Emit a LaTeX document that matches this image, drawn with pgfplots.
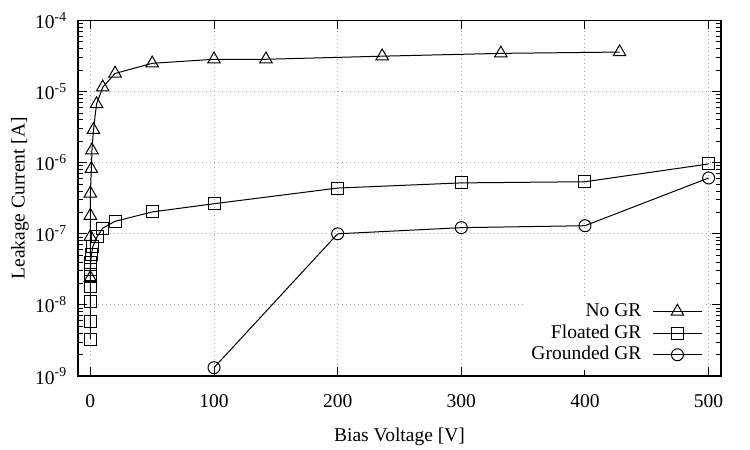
\documentclass[border=0pt]{standalone}
\usepackage{fontspec}
\setmainfont{Liberation Serif}
\usepackage{pgfplots}
\pgfplotsset{compat=1.18}
\begin{document}
\fontsize{9.75}{11.7}\selectfont
\begin{tikzpicture}
\useasboundingbox (-39pt,-37pt) rectangle (336pt,188pt);
\begin{axis}[
  at={(0,0)}, anchor=south west,
  scale only axis, width=321.5pt, height=177.75pt,
  xmin=-10, xmax=510,
  ymode=log, ymin=1e-9, ymax=1e-4,
  xtick={0,100,200,300,400,500},
  xticklabels={0,100,200,300,400,500},
  ytick={1e-9,1e-8,1e-7,1e-6,1e-5,1e-4},
  yticklabels={10\textsuperscript{-9},10\textsuperscript{-8},10\textsuperscript{-7},10\textsuperscript{-6},10\textsuperscript{-5},10\textsuperscript{-4}},
  tick align=inside,
  major tick length=4.5pt, minor tick length=2.5pt,
  tick style={black, line width=0.5pt},
  axis line style={line width=0.6pt},
  xmajorgrids, ymajorgrids,
  grid style={gray!70, line width=0.5pt, dash pattern=on 0.5pt off 1.5pt},
  xticklabel style={yshift=-6pt},
  yticklabel style={xshift=-2pt},
  xlabel={Bias Voltage [V]},
  ylabel={Leakage Current [A]},
  xlabel style={at={(axis description cs:0.5,-0.1716)}, anchor=center},
  ylabel style={at={(axis description cs:-0.0902,0.5)}, anchor=center},
  legend plot pos=right,
  legend cell align=right,
  legend image code/.code={\draw[mark repeat=2,mark phase=2] plot coordinates {(0pt,0pt)(12.25pt,0pt)(24.5pt,0pt)};},
  legend style={draw=none, fill=white, at={(axis description cs:0.978,0.017)}, anchor=south east,
    inner xsep=2pt, inner ysep=2pt, row sep=0pt,
    nodes={text height=7pt, text depth=2pt, inner ysep=0.9pt},
    /tikz/every odd column/.append style={column sep=3.5pt}},
]
\addplot[black, line width=0.5pt, mark=triangle, mark size=3.6pt, mark options={solid}] coordinates {
(0,2.4e-8) (0,9.1e-8) (0,1.8e-7) (0,3.7e-7) (0.8,8.2e-7) (1.3,1.5e-6) (2.5,2.9e-6)
(5,6.7e-6) (10,1.15e-5) (20,1.8e-5) (50,2.5e-5) (100,2.85e-5) (142,2.85e-5)
(236,3.15e-5) (332,3.45e-5) (428,3.6e-5)};
\addlegendentry{No GR}
\addplot[black, line width=0.5pt, mark=square, mark size=3pt, mark options={solid}] coordinates {
(0,3.3e-9) (0,5.8e-9) (0,1.1e-8) (0,1.8e-8) (0,2.5e-8) (0.1,3.15e-8) (0.3,3.95e-8)
(0.8,5.1e-8) (2,6.6e-8) (5.5,9.1e-8) (10,1.2e-7) (20,1.5e-7) (50,2.03e-7) (100,2.65e-7)
(200,4.4e-7) (300,5.2e-7) (400,5.4e-7) (500,9.6e-7)};
\addlegendentry{Floated GR}
\addplot[black, line width=0.5pt, mark=o, mark size=3pt, mark options={solid}] coordinates {
(100,1.31e-9) (200,1.0e-7) (300,1.22e-7) (400,1.3e-7) (500,6.1e-7)};
\addlegendentry{Grounded GR}
\end{axis}
\end{tikzpicture}
\end{document}
